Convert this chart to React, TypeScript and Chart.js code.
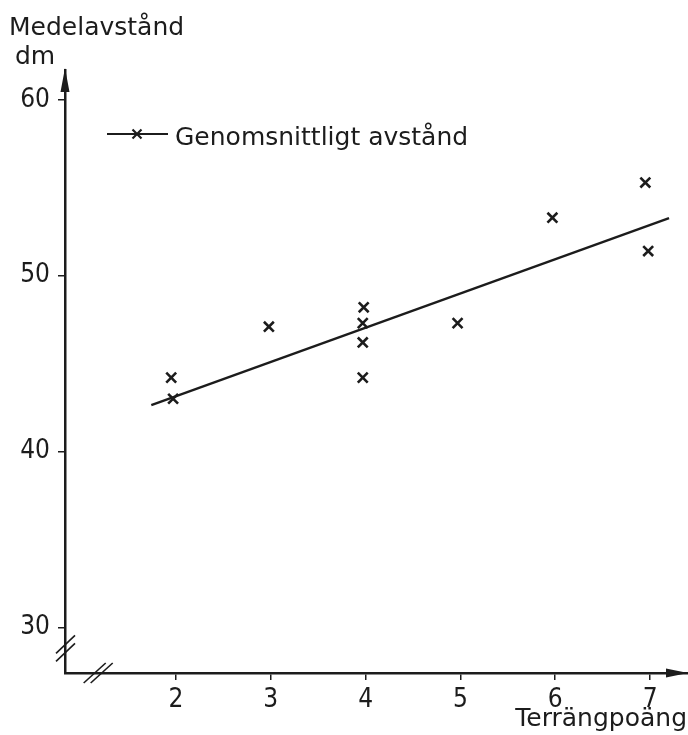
import React, { useEffect, useRef } from "react";
import { Chart, registerables } from "chart.js";

Chart.register(...registerables);

// ---- data ----
const xValues = [1.95, 1.97, 2.98, 3.98, 3.97, 3.97, 3.97, 4.97, 5.97, 6.95, 6.98];
const yValues = [44.2, 43.0, 47.1, 48.2, 47.3, 46.2, 44.2, 47.3, 53.3, 55.3, 51.4];
const fitX = [1.74, 7.2];
const fitY = [42.64, 53.28];
const xTicks = [2, 3, 4, 5, 6, 7];
const yTicks = [30, 40, 50, 60];
const yTitleLines = ["Medelavstånd", "dm"];
const xTitle = "Terrängpoäng";
const legendLabel = "Genomsnittligt avstånd";

const INK = "#1c1c1c";
const TICK_FAMILY = "'DejaVu Sans Condensed', 'Liberation Sans Narrow', 'DejaVu Sans', sans-serif";
const TEXT_FAMILY = "'DejaVu Sans', sans-serif";

const decorPlugin = {
  id: "decor",
  afterDraw(chart: any) {
    const { ctx, chartArea: a, scales } = chart;
    const x = scales.x;
    const y = scales.y;
    const ax = a.left;
    const ay = a.bottom;
    ctx.save();
    ctx.fillStyle = INK;
    ctx.strokeStyle = INK;
    // arrow heads
    ctx.beginPath();
    ctx.moveTo(ax, a.top - 2);
    ctx.lineTo(ax - 4.5, a.top + 22);
    ctx.lineTo(ax + 4.5, a.top + 22);
    ctx.closePath();
    ctx.fill();
    ctx.beginPath();
    ctx.moveTo(a.right, ay);
    ctx.lineTo(a.right - 22, ay - 4.5);
    ctx.lineTo(a.right - 22, ay + 4.5);
    ctx.closePath();
    ctx.fill();
    // axis breaks
    ctx.lineWidth = 1.6;
    const by = y.getPixelForValue(28.8);
    for (const d of [-4, 4]) {
      ctx.beginPath();
      ctx.moveTo(ax - 9, by + d + 9);
      ctx.lineTo(ax + 10, by + d - 9);
      ctx.stroke();
    }
    const bx = x.getPixelForValue(1.18);
    for (const d of [-3.5, 3.5]) {
      ctx.beginPath();
      ctx.moveTo(bx + d - 11, ay + 10);
      ctx.lineTo(bx + d + 11, ay - 10);
      ctx.stroke();
    }
    // legend
    const ly = 134;
    ctx.lineWidth = 2;
    ctx.beginPath();
    ctx.moveTo(107, ly);
    ctx.lineTo(168, ly);
    ctx.stroke();
    ctx.lineWidth = 2.2;
    const cx = 137, r = 4.5;
    ctx.beginPath();
    ctx.moveTo(cx - r, ly - r);
    ctx.lineTo(cx + r, ly + r);
    ctx.moveTo(cx - r, ly + r);
    ctx.lineTo(cx + r, ly - r);
    ctx.stroke();
    ctx.font = `25px ${TEXT_FAMILY}`;
    ctx.textAlign = "left";
    ctx.textBaseline = "alphabetic";
    ctx.fillText(legendLabel, 175, 145);
    // y title
    ctx.fillText(yTitleLines[0], 9, 35);
    ctx.fillText(yTitleLines[1], 15, 64);
    // x title
    ctx.textAlign = "right";
    ctx.fillText(xTitle, 687, 726);
    ctx.restore();
  },
};

export default function App() {
  const ref = useRef<HTMLCanvasElement>(null);
  useEffect(() => {
    if (!ref.current) return;
    const points = xValues.map((v, i) => ({ x: v, y: yValues[i] }));
    const fit = fitX.map((v, i) => ({ x: v, y: fitY[i] }));
    const chart = new Chart(ref.current, {
      type: "scatter",
      data: {
        datasets: [
          {
            label: legendLabel,
            data: points,
            pointStyle: "crossRot",
            pointRadius: 7,
            borderColor: INK,
            backgroundColor: INK,
            pointBorderWidth: 2.6,
            showLine: false,
          } as any,
          {
            label: "fit",
            data: fit,
            showLine: true,
            pointRadius: 0,
            borderColor: INK,
            borderWidth: 2.4,
          } as any,
        ],
      },
      plugins: [decorPlugin],
      options: {
        responsive: false,
        animation: false,
        layout: { autoPadding: false, padding: { top: 70, right: 0, left: 0, bottom: 0 } },
        plugins: { legend: { display: false }, tooltip: { enabled: false }, title: { display: false } },
        scales: {
          x: {
            type: "linear",
            min: 0.83,
            max: 7.4,
            afterBuildTicks: (s: any) => {
              s.ticks = xTicks.map((v) => ({ value: v }));
            },
            afterFit: (s: any) => {
              s.height = 62;
              s.paddingLeft = 0;
              s.paddingRight = 0;
            },
            grid: { display: true, drawOnChartArea: false, drawTicks: true, tickLength: 7, color: INK, lineWidth: 1.5 },
            border: { display: true, color: INK, width: 2.5 },
            ticks: { color: INK, font: { family: TICK_FAMILY, size: 26 }, padding: 5, maxRotation: 0 },
          },
          y: {
            type: "linear",
            min: 27.4,
            max: 61.7,
            afterBuildTicks: (s: any) => {
              s.ticks = yTicks.map((v) => ({ value: v }));
            },
            afterFit: (s: any) => {
              s.width = 65;
            },
            grid: { display: true, drawOnChartArea: false, drawTicks: true, tickLength: 7, color: INK, lineWidth: 1.5 },
            border: { display: true, color: INK, width: 2.5 },
            ticks: { color: INK, font: { family: TICK_FAMILY, size: 26 }, padding: 8 },
          },
        },
      } as any,
    });
    return () => chart.destroy();
  }, []);
  return (
    <div style={{ position: "absolute", left: 0, top: 0, width: 688, height: 735, background: "#fff" }}>
      <canvas ref={ref} width={688} height={735} style={{ display: "block", width: 688, height: 735 }} />
    </div>
  );
}
